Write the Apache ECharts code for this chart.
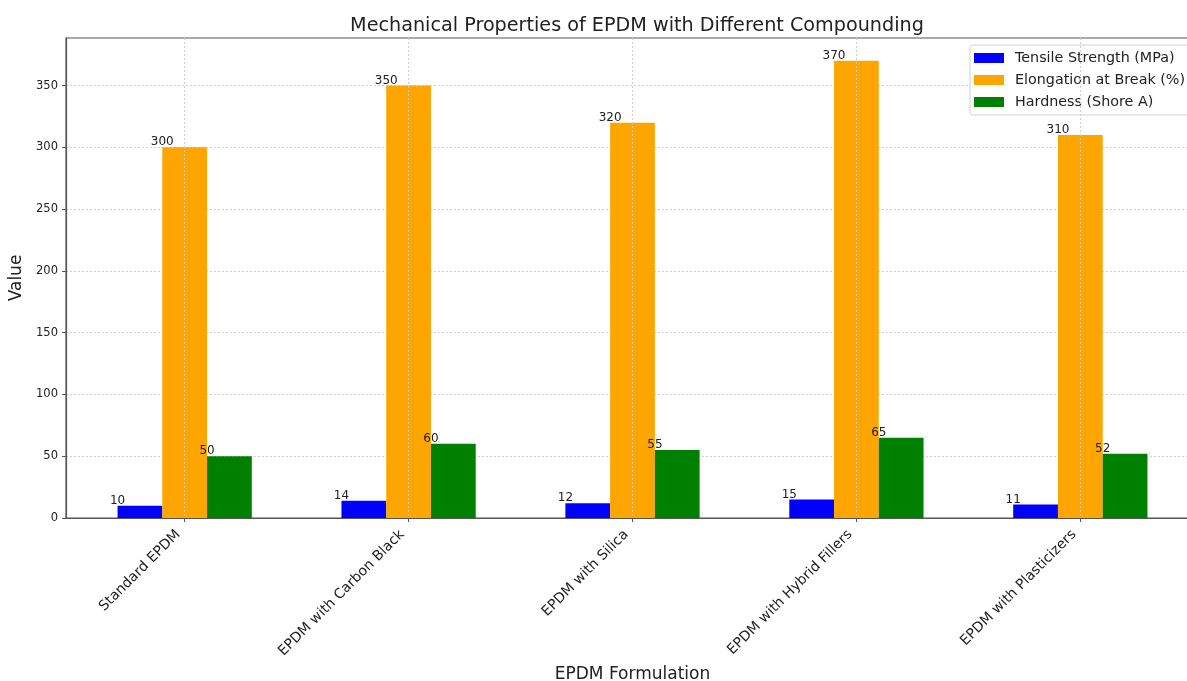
<!DOCTYPE html>
<html>
<head>
<meta charset="utf-8">
<script src="https://cdn.jsdelivr.net/npm/echarts@6/dist/echarts.min.js"></script>
<style>html,body{margin:0;padding:0;background:#fff}#c{width:1187px;height:681px}</style>
</head>
<body>
<div id="c"></div>
<script>
const categories = ['Standard EPDM', 'EPDM with Carbon Black', 'EPDM with Silica', 'EPDM with Hybrid Fillers', 'EPDM with Plasticizers'];
const tensileStrength = [10, 14, 12, 15, 11];
const elongationAtBreak = [300, 350, 320, 370, 310];
const hardness = [50, 60, 55, 65, 52];
const seriesNames = ['Tensile Strength (MPa)', 'Elongation at Break (%)', 'Hardness (Shore A)'];
const yTicks = [0, 50, 100, 150, 200, 250, 300, 350];
const xTicks = [0, 1, 2, 3, 4];

const FONT = 'DejaVu Sans';
const colors = ['#0000ff', '#ffa500', '#008000'];
const barW = 44.75;

function mk(name, vals, color) {
  return {
    name: name,
    type: 'bar',
    barWidth: barW,
    barGap: '0%',
    itemStyle: { color: color },
    data: vals.map((v, i) => [i, v]),
    label: {
      show: true,
      position: 'top',
      distance: 0,
      offset: [-barW / 2, 1],
      fontFamily: FONT,
      fontSize: 12,
      color: '#222',
      formatter: p => p.value[1]
    }
  };
}

const chart = echarts.init(document.getElementById('c'), null, { renderer: 'canvas' });
chart.setOption({
  animation: false,
  backgroundColor: '#fff',
  textStyle: { fontFamily: FONT },
  title: {
    text: 'Mechanical Properties of EPDM with Different Compounding',
    left: 632, top: 12, textAlign: 'center',
    textStyle: { fontFamily: FONT, fontSize: 19.2, fontWeight: 'normal', color: '#222' }
  },
  legend: {
    orient: 'vertical',
    left: 970, top: 45,
    padding: [5, 40, 5, 4],
    itemWidth: 30, itemHeight: 10,
    itemGap: 6,
    backgroundColor: '#fff',
    borderColor: '#d0d0d0', borderWidth: 1, borderRadius: 3,
    icon: 'rect',
    textStyle: { fontFamily: FONT, fontSize: 14.3, color: '#222', lineHeight: 16, padding: [0, 0, 0, 6] },
    data: seriesNames
  },
  grid: {
    left: 66, top: 38, width: 1133, height: 480,
    containLabel: false, outerBoundsMode: 'none',
    show: true, borderColor: '#555', borderWidth: 1.2, backgroundColor: 'transparent'
  },
  xAxis: {
    type: 'value', min: -0.53, max: 4.53, z: 5,
    name: 'EPDM Formulation', nameLocation: 'middle', nameGap: 148,
    nameTextStyle: { fontFamily: FONT, fontSize: 17, color: '#222' },
    axisLine: { show: true, onZero: false, lineStyle: { color: '#555', width: 1.2 } },
    axisTick: { show: true, customValues: xTicks, length: 4, lineStyle: { color: '#555' } },
    axisLabel: {
      customValues: xTicks, rotate: 45, margin: 8, padding: [0, 9, 0, 0],
      fontFamily: FONT, fontSize: 14, color: '#222',
      formatter: v => categories[Math.round(v)]
    },
    splitLine: { show: true, lineStyle: { color: '#cccccc', type: [2, 2], width: 1 } }
  },
  yAxis: {
    type: 'value', min: 0, max: 388.5,
    name: 'Value', nameLocation: 'middle', nameGap: 37, nameRotate: 90,
    nameTextStyle: { fontFamily: FONT, fontSize: 17, color: '#222' },
    axisLine: { show: true, onZero: false, lineStyle: { color: '#555', width: 1.2 } },
    axisTick: { show: true, customValues: yTicks, length: 4, lineStyle: { color: '#555' } },
    axisLabel: { customValues: yTicks, margin: 8, fontFamily: FONT, fontSize: 11.5, color: '#222' },
    splitLine: { show: true, lineStyle: { color: '#d0d0d0', type: [2, 2], width: 1 } }
  },
  series: [
    mk(seriesNames[0], tensileStrength, colors[0]),
    mk(seriesNames[1], elongationAtBreak, colors[1]),
    mk(seriesNames[2], hardness, colors[2])
  ]
});
</script>
</body>
</html>
